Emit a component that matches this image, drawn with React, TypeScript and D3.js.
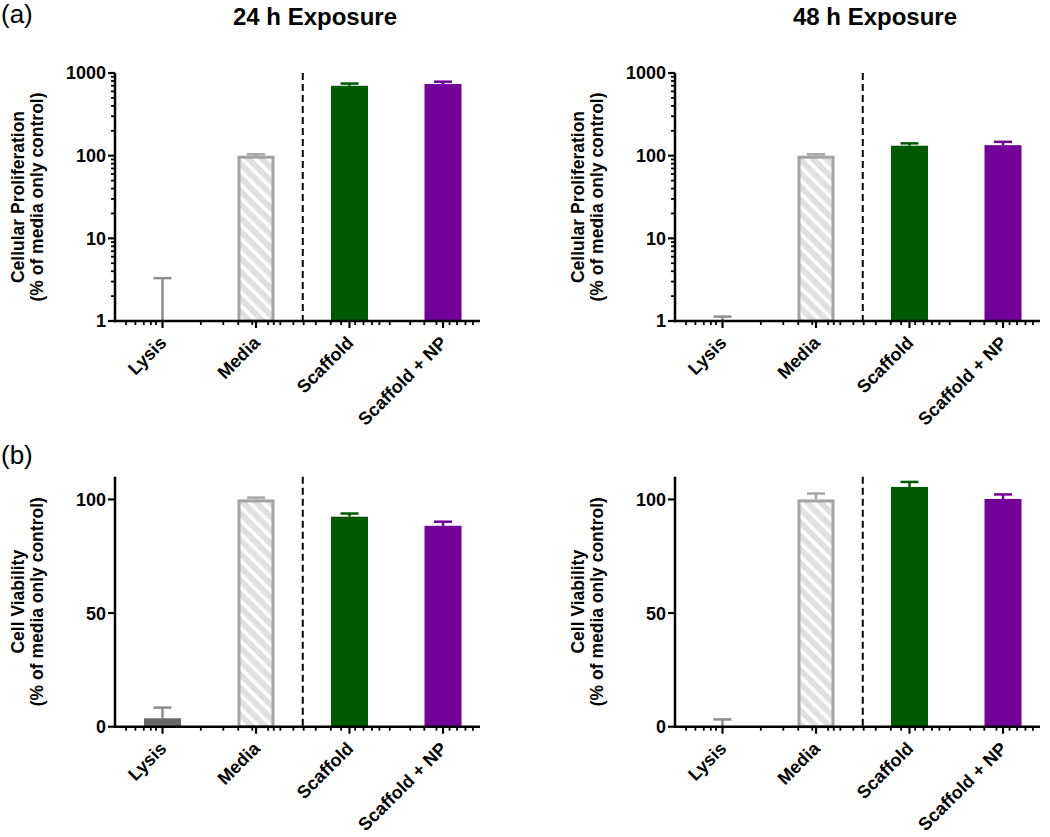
import React from "react";
import * as d3 from "d3";

const W = 1050;
const H = 837;
const FONT = "'Liberation Sans', Arial, Helvetica, sans-serif";

// ---------- data ----------
const categories = ["Lysis", "Media", "Scaffold", "Scaffold + NP"];
const panelTitles = ["24 h Exposure", "48 h Exposure"];

const prolif24Mean = [0.5, 100, 700, 735];
const prolif24Sem = [2.8, 4, 45, 50];
const prolif48Mean = [0.5, 100, 132, 134];
const prolif48Sem = [0.63, 4, 9, 13];

const viab24Mean = [3.7, 100, 92.4, 88.4];
const viab24Sem = [4.7, 0.8, 1.4, 1.8];
const viab48Mean = [0, 100, 105.5, 100.2];
const viab48Sem = [3.2, 2.6, 2.2, 2.0];

const logTicks = [1, 10, 100, 1000];
const linTicks = [0, 50, 100];

// x-axis decorative minor ticks, in category-index units
const xMinorTickUnits = [
  -0.39, -0.29, -0.2, -0.125, -0.07, 0.41, 0.65, 0.81, 0.96, 1.13, 1.19, 1.26,
  1.4, 1.51, 1.64, 1.8, 1.91, 2.06, 2.15, 2.24, 2.32, 2.43, 2.65, 2.8, 2.93,
  3.07, 3.15, 3.24, 3.32,
];

// ---------- style ----------
const barFill = ["#666666", "url(#hatch)", "#005a00", "#74009a"];
const errColor = ["#8c8c8c", "#a6a6a6", "#005a00", "#74009a"];

type PanelProps = {
  x0: number;
  yTop: number;
  yBase: number;
  log: boolean;
  means: number[];
  sems: number[];
  title1: string;
  title2: string;
};

function Panel({ x0, yTop, yBase, log, means, sems, title1, title2 }: PanelProps) {
  const x = d3
    .scalePoint<string>()
    .domain(categories)
    .range([x0 + 47.5, x0 + 47.5 + 3 * 93.5]);
  const y: any = log
    ? d3.scaleLog().domain([1, 1000]).range([yBase, yTop])
    : d3.scaleLinear().domain([0, 110]).range([yBase, yTop]);
  const base = log ? 1 : 0;
  const bw = 37;
  const capW = 18;
  const unit = d3
    .scaleLinear()
    .domain([0, 1])
    .range([x(categories[0])!, x(categories[1])!]);
  const majors = log ? logTicks : linTicks;
  const minorsY: number[] = log
    ? (y.ticks() as number[]).filter((t) => !logTicks.includes(t))
    : [];
  const dashX = (x(categories[1])! + x(categories[2])!) / 2;
  const axisEnd = x0 + 365;
  const midY = (yTop + yBase) / 2;

  return (
    <g>
      {/* bars */}
      {categories.map((c, i) => {
        const m = means[i];
        if (m <= base) return null;
        const cx = x(c)!;
        const top = y(m);
        if (i === 1) {
          return (
            <rect
              key={c}
              x={cx - bw / 2 + 1.5}
              y={top + 1.5}
              width={bw - 3}
              height={yBase - top - 1.5}
              fill={barFill[i]}
              stroke="#a3a3a3"
              strokeWidth={3}
            />
          );
        }
        return (
          <rect
            key={c}
            x={cx - bw / 2}
            y={top}
            width={bw}
            height={yBase - top}
            fill={barFill[i]}
          />
        );
      })}
      {/* error bars */}
      {categories.map((c, i) => {
        const m = means[i];
        const cx = x(c)!;
        const y0 = y(Math.max(m, base));
        const y1 = y(m + sems[i]);
        return (
          <g key={c} stroke={errColor[i]} strokeWidth={2.5}>
            <line x1={cx} x2={cx} y1={y0} y2={y1} />
            <line x1={cx - capW / 2} x2={cx + capW / 2} y1={y1} y2={y1} />
          </g>
        );
      })}
      {/* dashed separator */}
      <line
        x1={dashX}
        x2={dashX}
        y1={yTop}
        y2={yBase}
        stroke="#000"
        strokeWidth={2}
        strokeDasharray="7,4"
      />
      {/* y axis */}
      <line x1={x0} x2={x0} y1={yTop} y2={yBase + 1.2} stroke="#000" strokeWidth={2.5} />
      {majors.map((t) => (
        <g key={t}>
          <line x1={x0 - 7} x2={x0} y1={y(t)} y2={y(t)} stroke="#000" strokeWidth={2.2} />
          <text
            x={x0 - 9}
            y={y(t)}
            dy="0.36em"
            textAnchor="end"
            fontSize={18}
            fontWeight="bold"
            fontFamily={FONT}
          >
            {t}
          </text>
        </g>
      ))}
      {minorsY.map((t) => (
        <line key={t} x1={x0 - 4} x2={x0} y1={y(t)} y2={y(t)} stroke="#000" strokeWidth={1.8} />
      ))}
      {/* x axis */}
      <line x1={x0 - 1.2} x2={axisEnd} y1={yBase} y2={yBase} stroke="#000" strokeWidth={2.5} />
      {categories.map((c) => (
        <line
          key={c}
          x1={x(c)}
          x2={x(c)}
          y1={yBase}
          y2={yBase + 7}
          stroke="#000"
          strokeWidth={2.2}
        />
      ))}
      {xMinorTickUnits.map((u) => (
        <line
          key={u}
          x1={unit(u)}
          x2={unit(u)}
          y1={yBase}
          y2={yBase + 4}
          stroke="#000"
          strokeWidth={1.8}
        />
      ))}
      {categories.map((c) => (
        <text
          key={c}
          transform={`translate(${x(c)! + 5},${yBase + 23}) rotate(-45)`}
          textAnchor="end"
          fontSize={18}
          fontWeight="bold"
          fontFamily={FONT}
        >
          {c}
        </text>
      ))}
      {/* y title */}
      <text
        transform={`translate(${x0 - 91},${midY}) rotate(-90)`}
        textAnchor="middle"
        fontSize={17.5}
        fontWeight="bold"
        fontFamily={FONT}
      >
        {title1}
      </text>
      <text
        transform={`translate(${x0 - 72},${midY}) rotate(-90)`}
        textAnchor="middle"
        fontSize={17.5}
        fontWeight="bold"
        fontFamily={FONT}
      >
        {title2}
      </text>
    </g>
  );
}

export default function App() {
  const lefts = [115, 675];
  return (
    <svg
      width={W}
      height={H}
      style={{ position: "absolute", left: 0, top: 0, background: "#fff" }}
    >
      <defs>
        <pattern
          id="hatch"
          width={9.5}
          height={9.5}
          patternUnits="userSpaceOnUse"
          patternTransform="rotate(-45)"
        >
          <rect width={9.5} height={9.5} fill="#e0e0e0" />
          <rect width={3.5} height={9.5} fill="#ffffff" />
        </pattern>
      </defs>
      <rect width={W} height={H} fill="#fff" />
      <text x={1} y={23} fontSize={26} fontFamily={FONT}>
        (a)
      </text>
      <text x={1} y={464} fontSize={26} fontFamily={FONT}>
        (b)
      </text>
      {panelTitles.map((t, i) => (
        <text
          key={t}
          x={lefts[i] + 200}
          y={25}
          textAnchor="middle"
          fontSize={24}
          fontWeight="bold"
          fontFamily={FONT}
        >
          {t}
        </text>
      ))}
      <Panel x0={115} yTop={73} yBase={321} log means={prolif24Mean} sems={prolif24Sem}
        title1="Cellular Proliferation" title2="(% of media only control)" />
      <Panel x0={675} yTop={73} yBase={321} log means={prolif48Mean} sems={prolif48Sem}
        title1="Cellular Proliferation" title2="(% of media only control)" />
      <Panel x0={115} yTop={476.7} yBase={726.7} log={false} means={viab24Mean} sems={viab24Sem}
        title1="Cell Viability" title2="(% of media only control)" />
      <Panel x0={675} yTop={476.7} yBase={726.7} log={false} means={viab48Mean} sems={viab48Sem}
        title1="Cell Viability" title2="(% of media only control)" />
    </svg>
  );
}
